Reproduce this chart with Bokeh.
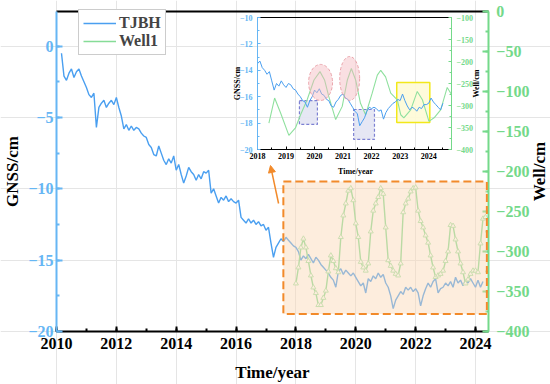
import math
import numpy as np
from bokeh.plotting import figure
from bokeh.models import (Range1d, LinearAxis, SingleIntervalTicker, FixedTicker,
                          Label, Legend, LegendItem, BoxAnnotation, Arrow, NormalHead)
from bokeh.embed import file_html
from bokeh.resources import INLINE

# ---------------- data ----------------
gnss_first_month = 2010 + 2 / 12          # monthly samples, TJBH GNSS (cm)
gnss_cm = [
    -0.5, -2.1, -2.4, -1.9, -1.6, -2.2, -1.8, -1.6, -2.1, -2.5,
    -2.9, -3.4, -3.6, -3.3, -5.7, -4.3, -4.0, -3.8, -4.3, -4.0, -3.8, -4.1,
    -3.6, -4.3, -4.9, -5.8, -5.5, -5.9, -5.6, -5.9, -5.7, -5.8, -6.1, -6.3,
    -6.4, -6.9, -7.1, -7.6, -7.7, -7.0, -7.5, -8.0, -8.3, -7.9, -8.2, -7.7,
    -8.7, -8.3, -9.0, -9.6, -9.1, -8.5, -8.8, -9.0, -9.4, -9.0, -9.3, -8.8,
    -8.9, -8.7, -10.3, -10.0, -10.5, -11.0, -10.6, -10.8, -10.5, -10.9, -10.7, -10.9,
    -11.0, -10.8, -12.0, -12.2, -12.4, -12.1, -12.4, -12.2, -12.5, -12.3, -12.6, -12.5,
    -12.9, -12.7, -13.8, -14.8, -14.1, -13.8, -13.5, -13.7, -13.4, -13.6, -13.8, -14.0,
    -14.1, -14.4, -15.0, -14.7, -14.9, -14.6, -14.9, -15.2, -14.8, -15.0, -15.3, -15.5,
    -15.7, -15.9, -16.2, -16.4, -16.9, -15.8, -15.6, -16.0, -15.7, -15.9, -16.1, -15.9,
    -16.2, -16.5, -16.8, -16.6, -17.3, -16.3, -16.5, -16.1, -16.3, -15.9, -16.2, -16.0,
    -16.6, -16.9, -17.5, -18.4, -17.8, -17.5, -17.2, -17.4, -16.9, -17.1, -16.9, -17.2,
    -17.0, -17.3, -18.2, -17.5, -17.0, -16.6, -16.9, -16.5, -16.3, -17.3, -17.0, -16.9,
    -16.6, -16.8, -16.5, -16.9, -16.2, -16.6, -16.4, -16.8, -16.4, -16.6, -16.3, -16.6,
    -16.9, -16.4, -16.9, -16.5,
]
well_first_month = 2018.0                 # monthly samples, Well1 (cm)
well_cm = [
    -340, -320, -295, -284, -295, -312, -330, -345, -352, -367, -367, -358,
    -349, -325, -305, -312, -321, -326, -282, -255, -240, -224, -221, -236,
    -265, -282, -313, -320, -324, -315, -275, -249, -240, -232, -221, -228,
    -270, -311, -318, -324, -328, -330, -315, -251, -240, -234, -225, -221,
    -220, -249, -262, -270, -280, -289, -305, -320, -332, -330, -328, -324,
    -312, -300, -267, -268, -285, -300, -315, -326, -340, -335, -328, -324,
    -324, -326, -290, -259, -257,
]
inset_gnss_first_month = 2018.0
inset_gnss_cm = [
    -13.5, -13.3, -13.8, -14.0, -14.3, -14.1, -14.8, -15.5, -15.0, -15.2, -14.8, -15.1,
    -15.3, -15.0, -15.1, -15.4, -15.5, -15.8, -16.0, -16.3, -16.4, -16.8, -16.3, -16.0,
    -15.5, -15.7, -15.4, -15.8, -15.9, -16.2, -16.3, -16.7, -16.8, -16.4, -16.2, -15.9,
    -15.8, -16.1, -16.2, -16.5, -16.8, -17.1, -17.3, -18.2, -17.9, -17.6, -17.1, -16.8,
    -16.9, -16.8, -16.9, -17.1, -17.0, -17.7, -17.2, -16.9, -16.7, -16.5, -16.4, -16.2,
    -16.3, -15.8, -16.3, -16.7, -17.0, -16.8, -16.9, -17.1, -16.8, -16.9, -16.6, -16.6,
    -16.5, -16.1, -16.4, -16.6, -16.8, -17.0, -16.5,
]
inset_well_year = [2018.40, 2018.60, 2018.81, 2019.10, 2019.33, 2019.51, 2019.74, 2019.98,
                   2020.19, 2020.35, 2020.50, 2020.74, 2020.97, 2021.15, 2021.29, 2021.44,
                   2021.61, 2021.79, 2022.02, 2022.20, 2022.32, 2022.49, 2022.67, 2022.90,
                   2023.02, 2023.13, 2023.37, 2023.60, 2023.78, 2024.01, 2024.19, 2024.42,
                   2024.65, 2024.80]
inset_well_cm = [-340, -283, -317, -368, -351, -321, -287, -242,
                 -223, -242, -280, -332, -302, -242, -216, -242,
                 -295, -321, -272, -231, -220, -235, -272, -287,
                 -321, -328, -310, -268, -287, -336, -328, -310,
                 -259, -275]

# highlighted regions (data coordinates)
ellipse_x = [2020.21, 2021.23]
ellipse_y = [-14.92, -14.62]
ellipse_w = [0.84, 0.70]
ellipse_h = [2.73, 3.33]
dip_left = [2019.47, 2021.37]
dip_right = [2020.10, 2022.10]
dip_bottom = [-18.10, -19.24]
dip_top = [-16.29, -16.97]
stable_left, stable_right, stable_bottom, stable_top = [2022.88], [2024.04], [-17.95], [-14.92]
zoom_left, zoom_right, zoom_bottom, zoom_top = 2017.58, 2024.38, -378.0, -212.5
arrow_x0, arrow_y0, arrow_x1, arrow_y1 = 2017.42, -11.03, 2017.15, -8.37

# axis extents
main_x_start, main_x_end = 2010.0, 2024.43
main_gnss_start, main_gnss_end = -20.0, 2.42
main_well_start, main_well_end = -400.0, 0.0
inset_x_start, inset_x_end = 2018.0, 2024.8
inset_gnss_start, inset_gnss_end = -20.0, -10.0
inset_well_start, inset_well_end = -400.0, -100.0

gnss_year = gnss_first_month + np.arange(len(gnss_cm)) / 12
well_year = well_first_month + np.arange(len(well_cm)) / 12
inset_gnss_year = inset_gnss_first_month + np.arange(len(inset_gnss_cm)) / 12

# ---------------- styling ----------------
FONT = "Liberation Serif"
BLUE = "#4a9ff0"
BLUE_AX = "#66b6f4"
GREEN = "#86dc97"
GREEN_AX = "#74d98a"
ORANGE = "#f28a2a"
W, H = 550, 384


def lin_range(v_a, px_a, v_b, px_b, px_lo, px_hi):
    s = (v_b - v_a) / (px_b - px_a)
    return Range1d(v_a + (px_lo - px_a) * s, v_a + (px_hi - px_a) * s)


# the frame fills the canvas; axes are drawn at fixed locations inside it
# main plot box in pixels: x 56..488, y 11..331 ; inset box: x 257..451, y 17..149
p = figure(width=W, height=H, output_backend="svg", toolbar_location=None,
           x_axis_location=None, y_axis_location=None, min_border=0,
           x_range=lin_range(2010, 56, 2024, 475, 0, W),
           y_range=lin_range(-20, 331, 0, 45.6, H, 0))
p.outline_line_color = None
p.background_fill_color = "white"
p.border_fill_color = "white"
p.extra_y_ranges = {
    "well": lin_range(-400, 331, 0, 11, H, 0),
    "iyl": lin_range(-20, 149, -10, 17, H, 0),
    "iyr": lin_range(-400, 149, -100, 17, H, 0),
}
p.extra_x_ranges = {"ix": lin_range(2018, 257, 2024.8, 451, 0, W)}


def make_axis(side, loc, bounds, ticker, color, lab_color, size, width, t_in, m_in, standoff,
              x_range_name="default", y_range_name="default"):
    ax = LinearAxis(fixed_location=loc, bounds=bounds, ticker=ticker,
                    x_range_name=x_range_name, y_range_name=y_range_name)
    ax.axis_line_color = color
    ax.axis_line_width = width
    ax.major_tick_line_color = color
    ax.minor_tick_line_color = color
    ax.major_tick_line_width = width
    ax.minor_tick_line_width = width
    ax.major_tick_in = t_in
    ax.major_tick_out = 0
    ax.minor_tick_in = m_in
    ax.minor_tick_out = 0
    ax.major_label_text_color = lab_color
    ax.major_label_text_font = FONT
    ax.major_label_text_font_style = "bold"
    ax.major_label_text_font_size = size
    ax.major_label_standoff = standoff
    p.add_layout(ax, side)
    return ax


# ---------------- inset decorations (below lines) ----------------
p.quad(left=dip_left, right=dip_right, bottom=dip_bottom, top=dip_top,
       x_range_name="ix", y_range_name="iyl",
       fill_color="#e3e4f3", fill_alpha=0.9, line_color="#7c80d2", line_width=1.2, line_dash="3 2")
p.quad(left=stable_left, right=stable_right, bottom=stable_bottom, top=stable_top,
       x_range_name="ix", y_range_name="iyl",
       fill_color="#fefbd6", fill_alpha=0.9, line_color="#f2e81a", line_width=1.5)

# ---------------- main series ----------------
gn_r = p.line(gnss_year, gnss_cm, line_color=BLUE, line_width=1.4)
well_line = p.line(well_year, well_cm, y_range_name="well", line_color=GREEN, line_width=1.4)
p.scatter(well_year, well_cm, y_range_name="well", marker="triangle", size=5,
          fill_color="white", line_color="#a6e3ae", line_width=1)
leg_dot = p.scatter(x=[], y=[], marker="circle", size=4, fill_color="white", line_color=GREEN)

# ---------------- inset series ----------------
p.line(inset_well_year, inset_well_cm, x_range_name="ix", y_range_name="iyr",
       line_color="#8fe09e", line_width=1.1)
p.line(inset_gnss_year, inset_gnss_cm, x_range_name="ix", y_range_name="iyl",
       line_color=BLUE, line_width=1)
p.ellipse(x=ellipse_x, y=ellipse_y, width=ellipse_w, height=ellipse_h,
          x_range_name="ix", y_range_name="iyl",
          fill_color="#f4b9be", fill_alpha=0.45, line_color="#eaa3aa", line_width=1, line_dash="3 2")

# ---------------- main axes ----------------
make_axis("below", main_gnss_start, (main_x_start, main_x_end),
          SingleIntervalTicker(interval=2, num_minor_ticks=2), "black", "black", "16px", 2, 5, 3, 6)
make_axis("left", main_x_start, (main_gnss_start, main_gnss_end),
          SingleIntervalTicker(interval=5, num_minor_ticks=2), BLUE_AX, BLUE_AX, "16px", 2, 6, 3, 3)
make_axis("right", main_x_end, (main_well_start, main_well_end),
          SingleIntervalTicker(interval=50, num_minor_ticks=2), GREEN_AX, GREEN_AX, "16px", 2, 6, 3, 8,
          y_range_name="well")
make_axis("above", main_gnss_end, (main_x_start, main_x_end), FixedTicker(ticks=[]),
          "black", "black", "1px", 2, 0, 0, 0)

# ---------------- inset axes ----------------
make_axis("below", inset_gnss_start, (inset_x_start, inset_x_end),
          SingleIntervalTicker(interval=1, num_minor_ticks=2), "black", "black", "8px", 1, 3, 2, 3,
          x_range_name="ix", y_range_name="iyl")
make_axis("left", inset_x_start, (inset_gnss_start, inset_gnss_end),
          SingleIntervalTicker(interval=2, num_minor_ticks=2), BLUE_AX, BLUE_AX, "8px", 1, 3, 2, 5,
          x_range_name="ix", y_range_name="iyl")
make_axis("right", inset_x_end, (inset_well_start, inset_well_end),
          SingleIntervalTicker(interval=50, num_minor_ticks=2), GREEN_AX, GREEN_AX, "8px", 1, 3, 2, 5,
          x_range_name="ix", y_range_name="iyr")
make_axis("above", inset_gnss_end, (inset_x_start, inset_x_end), FixedTicker(ticks=[]),
          "black", "black", "1px", 1, 0, 0, 0, x_range_name="ix", y_range_name="iyl")

# ---------------- zoom box and arrow ----------------
p.add_layout(BoxAnnotation(left=zoom_left, right=zoom_right, bottom=zoom_bottom, top=zoom_top,
                           y_range_name="well", fill_color="#fad7b4", fill_alpha=0.45,
                           line_color=ORANGE, line_alpha=1.0, line_width=2, line_dash="8 4"))
p.add_layout(Arrow(end=NormalHead(size=7, fill_color=ORANGE, line_color=ORANGE),
                   x_start=arrow_x0, y_start=arrow_y0, x_end=arrow_x1, y_end=arrow_y1,
                   line_color=ORANGE, line_width=1.5))


# ---------------- axis titles (pixel positions from the top-left) ----------------
def title(text, px, py, size, angle=0.0):
    p.add_layout(Label(x=px, y=H - py, x_units="screen", y_units="screen", text=text,
                       angle=angle, text_align="center", text_baseline="middle",
                       text_font=FONT, text_font_style="bold", text_font_size=size,
                       text_color="black"))


title("GNSS/cm", 12, 171, "17px", math.pi / 2)
title("Well/cm", 539, 171, "17px", math.pi / 2)
title("Time/year", 272, 372, "17px")
title("GNSS/cm", 237, 83, "8px", math.pi / 2)
title("Well/cm", 476, 83, "8px", math.pi / 2)
title("Time/year", 355, 171, "8px")

# ---------------- legend ----------------
legend = Legend(items=[LegendItem(label="TJBH", renderers=[gn_r]),
                       LegendItem(label="Well1", renderers=[well_line, leg_dot])],
                location=(78, H - 55), margin=0, padding=4, spacing=0,
                glyph_width=33, glyph_height=16, label_height=16, label_standoff=3,
                label_text_font=FONT, label_text_font_style="bold", label_text_font_size="16px",
                border_line_color="#9a9a9a", border_line_width=1,
                background_fill_color="white", background_fill_alpha=1)
p.add_layout(legend)

open("out.html", "w").write(file_html(p, INLINE))
